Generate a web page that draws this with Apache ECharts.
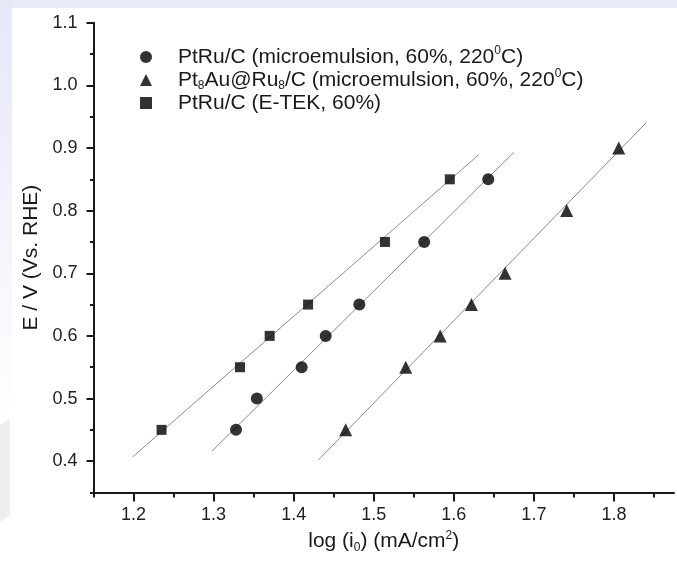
<!DOCTYPE html>
<html lang="en">
<head>
<meta charset="UTF-8">
<title>Tafel plot</title>
<script src="https://cdn.jsdelivr.net/npm/echarts@6/dist/echarts.min.js"></script>
<style>
    html, body { margin: 0; padding: 0; background: #fff; }
    #chart { width: 677px; height: 565px; }
</style>
</head>
<body>
<div id="chart"></div>
<script type="text/javascript">
    // measured points: log(i0) and E
    var microX = [1.328, 1.354, 1.410, 1.440, 1.482, 1.563, 1.643];
    var microY = [0.45, 0.50, 0.55, 0.60, 0.65, 0.75, 0.85];
    var ptauX = [1.465, 1.540, 1.583, 1.622, 1.664, 1.741, 1.806];
    var ptauY = [0.45, 0.55, 0.60, 0.65, 0.70, 0.80, 0.90];
    var etekX = [1.235, 1.333, 1.370, 1.418, 1.514, 1.595];
    var etekY = [0.45, 0.55, 0.60, 0.65, 0.75, 0.85];

    // fitted lines, start and end
    var microFit = [[1.298, 0.416], [1.675, 0.893]];
    var ptauFit = [[1.431, 0.402], [1.840, 0.940]];
    var etekFit = [[1.199, 0.407], [1.631, 0.889]];

    // ticks
    var xMajor = [1.2, 1.3, 1.4, 1.5, 1.6, 1.7, 1.8];
    var xMinor = [1.15, 1.25, 1.35, 1.45, 1.55, 1.65, 1.75, 1.85];
    var yMajor = [0.4, 0.5, 0.6, 0.7, 0.8, 0.9, 1.0, 1.1];
    var yMinor = [0.35, 0.45, 0.55, 0.65, 0.75, 0.85, 0.95, 1.05];

    var names = ['PtRu/C (microemulsion, 60%, 220°C)', 'Pt8Au@Ru8/C (microemulsion, 60%, 220°C)', 'PtRu/C (E-TEK, 60%)'];
    var richNames = {};
    richNames[names[0]] = '{t|PtRu/C (microemulsion, 60%, 220}{sup|0}{t|C)}';
    richNames[names[1]] = '{t|Pt}{sub|8}{t|Au@Ru}{sub|8}{t|/C (microemulsion, 60%, 220}{sup|0}{t|C)}';
    richNames[names[2]] = '{t|PtRu/C (E-TEK, 60%)}';

    function zip(xs, ys) {
        var out = [];
        for (var i = 0; i < xs.length; i++) out.push([xs[i], ys[i]]);
        return out;
    }

    var font = 'Liberation Sans, Arial, sans-serif';
    var ink = '#1a1a1a';
    var richStyle = {
        t: { fontSize: 21, lineHeight: 24, color: ink, fontFamily: font },
        sup: { fontSize: 12, lineHeight: 13, verticalAlign: 'top', color: ink, fontFamily: font },
        sub: { fontSize: 12, lineHeight: 9, verticalAlign: 'bottom', color: ink, fontFamily: font }
    };

    var myChart = echarts.init(document.getElementById('chart'));

    function fitLine(data) {
        return {
            type: 'line',
            data: data,
            symbol: 'none',
            silent: true,
            z: 1,
            lineStyle: { color: '#8c8c8c', width: 1 }
        };
    }

    function dots(name, symbol, size, data) {
        return {
            name: name,
            type: 'scatter',
            symbol: symbol,
            symbolSize: size,
            data: data,
            z: 3,
            itemStyle: { color: '#000' }
        };
    }

    var option = {
        backgroundColor: '#fff',
        animation: false,
        textStyle: { fontFamily: font },
        graphic: [
            {
                type: 'rect', shape: { x: 0, y: 0, width: 677, height: 8 }, silent: true, z: -10,
                style: { fill: '#e8eaf8' }
            },
            {
                type: 'rect', shape: { x: 0, y: 0, width: 12, height: 420 }, silent: true, z: -10,
                style: {
                    fill: new echarts.graphic.LinearGradient(0, 0, 0, 1, [
                        { offset: 0, color: '#e6e7f8' },
                        { offset: 1, color: '#ffffff' }
                    ])
                }
            },
            {
                type: 'polygon', shape: { points: [[0, 425], [10, 418], [10, 515], [0, 522]] }, silent: true, z: -10,
                style: { fill: '#efefef' }
            }
        ],
        grid: { left: 93.5, right: 3, top: 22.7, bottom: 72.5, containLabel: false },
        legend: {
            orient: 'vertical',
            left: 140,
            top: 45,
            padding: 0,
            itemGap: 0.5,
            itemWidth: 12,
            itemHeight: 12,
            selectedMode: false,
            data: names,
            formatter: function (name) { return richNames[name]; },
            textStyle: { padding: [0, 0, 0, 21], rich: richStyle }
        },
        xAxis: [
            {
                type: 'value', min: 1.15, max: 1.875, position: 'bottom',
                axisLine: { lineStyle: { color: ink, width: 2 } },
                axisTick: { customValues: xMajor, length: 9, lineStyle: { color: ink, width: 2 } },
                axisLabel: {
                    customValues: xMajor, fontSize: 18, color: '#222', margin: 14, fontFamily: font,
                    formatter: function (v) { return v.toFixed(1); }
                },
                splitLine: { show: false },
                name: '{t|log (i}{sub|0}{t|) (mA/cm}{sup|2}{t|)}',
                nameLocation: 'middle',
                nameGap: 36,
                nameTextStyle: { rich: richStyle }
            },
            {
                type: 'value', min: 1.15, max: 1.875, position: 'bottom',
                axisLine: { show: false },
                axisTick: { customValues: xMinor, length: 5, lineStyle: { color: ink, width: 2 } },
                axisLabel: { show: false },
                splitLine: { show: false }
            }
        ],
        yAxis: [
            {
                type: 'value', min: 0.35, max: 1.1, position: 'left',
                axisLine: { lineStyle: { color: ink, width: 2 } },
                axisTick: { customValues: yMajor, length: 7, lineStyle: { color: ink, width: 2 } },
                axisLabel: {
                    customValues: yMajor, fontSize: 18, color: '#222', margin: 16, fontFamily: font,
                    formatter: function (v) { return v.toFixed(1); }
                },
                splitLine: { show: false },
                name: 'E / V (Vs. RHE)',
                nameLocation: 'middle',
                nameGap: 51,
                nameTextStyle: { fontSize: 21, color: ink, fontFamily: font }
            },
            {
                type: 'value', min: 0.35, max: 1.1, position: 'left',
                axisLine: { show: false },
                axisTick: { customValues: yMinor, length: 3.5, lineStyle: { color: ink, width: 2 } },
                axisLabel: { show: false },
                splitLine: { show: false }
            }
        ],
        series: [
            fitLine(microFit),
            fitLine(ptauFit),
            fitLine(etekFit),
            dots(names[0], 'circle', 12, zip(microX, microY)),
            dots(names[1], 'triangle', 13, zip(ptauX, ptauY)),
            dots(names[2], 'rect', 10, zip(etekX, etekY))
        ]
    };

    myChart.setOption(option);
</script>
</body>
</html>
